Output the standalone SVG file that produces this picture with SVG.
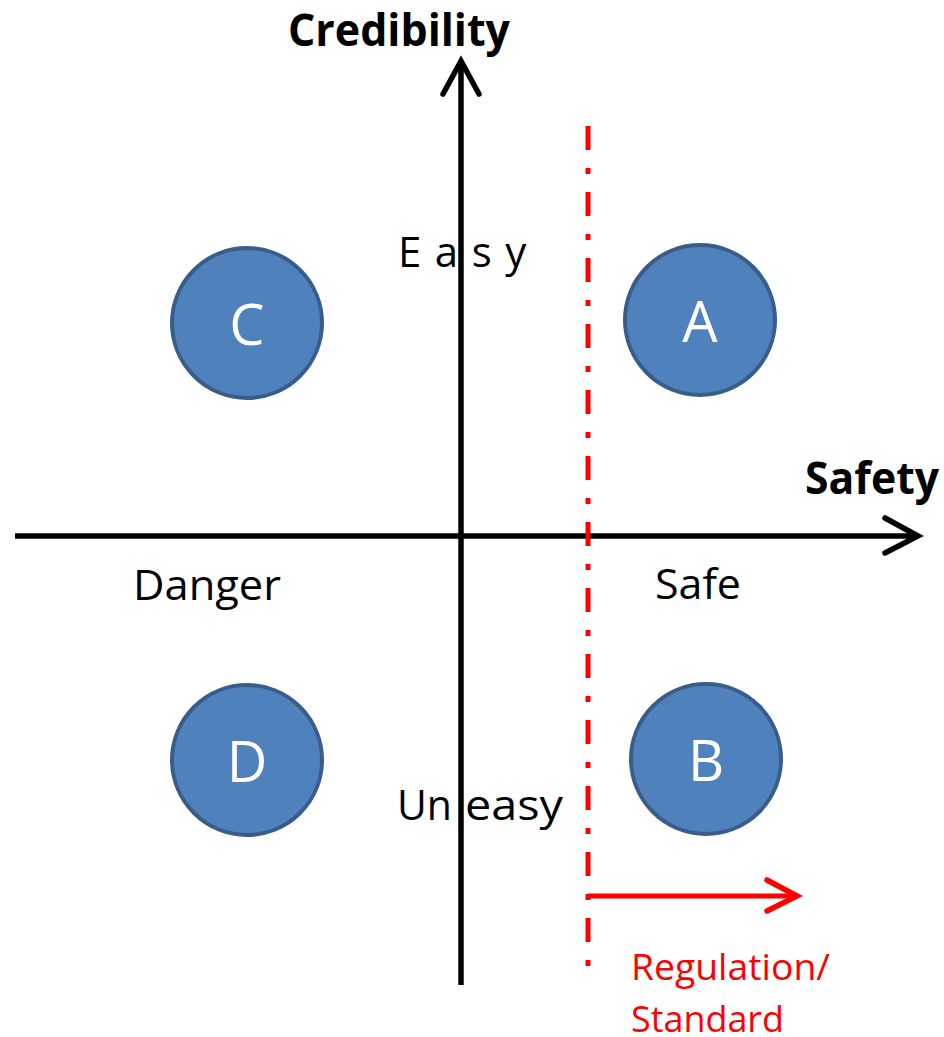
<svg xmlns="http://www.w3.org/2000/svg" width="944" height="1037" viewBox="0 0 944 1037">
  <style>
    .axis { stroke: #000; stroke-width: 5.5; fill: none; }
    .head { stroke: #000; stroke-width: 5.5; fill: none; stroke-linecap: round; stroke-linejoin: miter; }
    .reg { stroke: #FF0000; stroke-width: 5; fill: none; }
    .reghead { stroke: #FF0000; stroke-width: 5.5; fill: none; stroke-linecap: round; }
    .node circle { fill: #4F81BD; stroke: #385D8A; stroke-width: 4; }
    .node text { fill: #fff; font-family: "Open Sans", "Noto Sans", sans-serif; font-size: 56px; text-anchor: middle; }
    .lbl { font-family: "Open Sans", "Noto Sans", sans-serif; font-size: 42px; fill: #000; }
    .title { font-family: "Open Sans", "Noto Sans", sans-serif; font-size: 45px; font-weight: bold; fill: #000; }
    .red { font-family: "Open Sans", "Noto Sans", sans-serif; font-size: 37px; fill: #FF0000; }
  </style>

  <!-- axes and regulation line -->
  <g id="connectors">
    <line class="axis" x1="461" y1="985" x2="461" y2="62"/>
    <polyline class="head" points="443,94 461,61 479,94"/>
    <line class="axis" x1="15" y1="536" x2="917" y2="536"/>
    <polyline class="head" points="885,518 918,536 885,553"/>
    <line class="reg" x1="588" y1="126" x2="588" y2="968" stroke-width="6" stroke-dasharray="24 18 6 18"/>
    <line class="reg" x1="588" y1="896" x2="796" y2="896"/>
    <polyline class="reghead" points="767,880 797,896 767,911"/>
  </g>

  <!-- axis titles and quadrant labels -->
  <text class="title" x="288" y="46" textLength="222" lengthAdjust="spacingAndGlyphs">Credibility</text>
  <text class="title" x="805" y="494" textLength="134" lengthAdjust="spacingAndGlyphs">Safety</text>
  <text class="lbl" x="398" y="267" letter-spacing="13.5">Easy</text>
  <text class="lbl" y="820"><tspan x="397" textLength="55" lengthAdjust="spacingAndGlyphs">Un</tspan><tspan x="465" textLength="98" lengthAdjust="spacingAndGlyphs">easy</tspan></text>
  <text class="lbl" x="133" y="600" textLength="148" lengthAdjust="spacingAndGlyphs">Danger</text>
  <text class="lbl" x="655" y="599" textLength="86" lengthAdjust="spacingAndGlyphs">Safe</text>
  <text class="red" x="631" y="980" textLength="199" lengthAdjust="spacingAndGlyphs">Regulation/</text>
  <text class="red" x="631" y="1032" textLength="153" lengthAdjust="spacingAndGlyphs">Standard</text>

  <g id="node-C" class="node">
    <circle cx="247" cy="323" r="75"/>
    <text x="247" y="345">C</text>
  </g>
  <g id="node-A" class="node">
    <circle cx="700" cy="320" r="75"/>
    <text x="700" y="342">A</text>
  </g>
  <g id="node-D" class="node">
    <circle cx="247" cy="760" r="75"/>
    <text x="247" y="782">D</text>
  </g>
  <g id="node-B" class="node">
    <circle cx="706" cy="759" r="75"/>
    <text x="706" y="781">B</text>
  </g>
</svg>
